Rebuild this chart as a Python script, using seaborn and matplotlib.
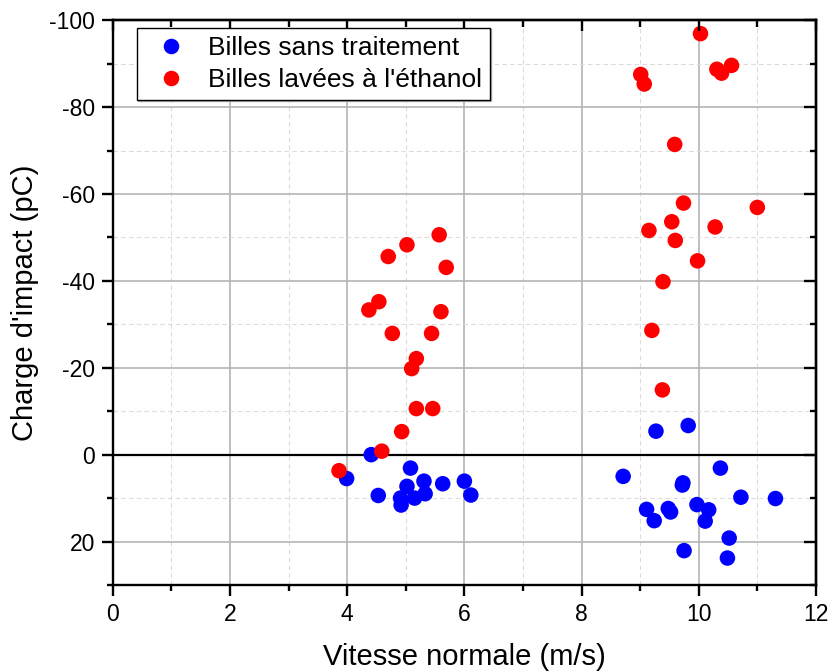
import numpy as np
import pandas as pd
import matplotlib
matplotlib.use("Agg")
import matplotlib.pyplot as plt
from matplotlib.ticker import MultipleLocator
import seaborn as sns

# Untreated beads: normal velocity (m/s) and impact charge (pC)
vitesse_sans = [4.41, 3.99, 4.53, 5.08, 5.02, 5.31, 5.63, 6.00, 6.11, 4.91, 4.92, 5.15, 5.33,
                9.27, 9.82, 8.71, 10.37, 9.73, 9.72, 10.72, 11.31, 9.11, 9.24, 9.48, 9.52,
                9.97, 10.17, 10.11, 10.52, 9.75, 10.49]
charge_sans = [0.0, 5.5, 9.4, 3.1, 7.3, 6.1, 6.7, 6.1, 9.3, 10.0, 11.6, 10.0, 9.0,
               -5.4, -6.7, 5.0, 3.1, 6.5, 7.0, 9.8, 10.1, 12.6, 15.2, 12.4, 13.2,
               11.5, 12.7, 15.3, 19.2, 22.1, 23.8]

# Ethanol-washed beads
vitesse_ethanol = [3.86, 4.59, 4.93, 5.18, 5.46, 5.10, 5.18, 4.77, 5.44, 4.37, 4.54, 5.60,
                   4.70, 5.02, 5.57, 5.69,
                   10.03, 9.01, 9.07, 10.31, 10.39, 10.56, 9.59, 9.74, 11.00, 9.54, 9.15,
                   10.28, 9.60, 9.98, 9.39, 9.20, 9.38]
charge_ethanol = [3.7, -0.8, -5.3, -10.6, -10.6, -19.8, -22.1, -27.9, -27.9, -33.3, -35.2, -32.9,
                  -45.6, -48.3, -50.6, -43.1,
                  -96.9, -87.5, -85.3, -88.7, -87.8, -89.6, -71.4, -57.9, -56.9, -53.6, -51.6,
                  -52.4, -49.3, -44.6, -39.8, -28.6, -14.9]

series = ["Billes sans traitement", "Billes lavées à l'éthanol"]
couleurs = ["#0000ff", "#ff0000"]

df = pd.DataFrame({
    "vitesse": vitesse_sans + vitesse_ethanol,
    "charge": charge_sans + charge_ethanol,
    "serie": [series[0]] * len(vitesse_sans) + [series[1]] * len(vitesse_ethanol),
})

sns.set_theme(style="white")
plt.rcParams["font.family"] = ["Liberation Sans", "DejaVu Sans"]
plt.rcParams["axes.unicode_minus"] = False
plt.rcParams["text.color"] = "black"
plt.rcParams["axes.labelcolor"] = "black"
plt.rcParams["xtick.color"] = "black"
plt.rcParams["ytick.color"] = "black"

fig = plt.figure(figsize=(8.3, 6.72), dpi=100)
ax = fig.add_axes([0.136, 0.1295, 0.847, 0.8405])

ax.set_xlim(0, 12)
ax.set_ylim(30, -100)

ax.xaxis.set_major_locator(MultipleLocator(2))
ax.xaxis.set_minor_locator(MultipleLocator(1))
ax.yaxis.set_major_locator(MultipleLocator(20))
ax.yaxis.set_minor_locator(MultipleLocator(10))

ax.grid(which="major", color="#b4b4b4", linewidth=1.2, linestyle="-")
ax.grid(which="minor", color="#dcdcdc", linewidth=0.8, linestyle=(0, (4, 3)))
ax.set_axisbelow(True)

ax.axhline(0, color="black", linewidth=1.6, zorder=1.5)

sns.scatterplot(data=df, x="vitesse", y="charge", hue="serie", hue_order=series,
                palette=couleurs, s=125, edgecolor="none", linewidth=0, ax=ax, zorder=3)

for side in ["left", "right", "top", "bottom"]:
    ax.spines[side].set_visible(True)
    ax.spines[side].set_color("black")
    ax.spines[side].set_linewidth(1.7)

ax.tick_params(which="major", direction="out", length=8, width=1.7, color="black",
               labelsize=16.5, pad=5, bottom=True, left=True)
ax.tick_params(which="minor", direction="out", length=4, width=1.7, color="black",
               bottom=True, left=True)
# inward ticks on the top and right frame
ax_top = ax.secondary_xaxis("top")
ax_top.set_zorder(4)
ax_top.xaxis.set_major_locator(MultipleLocator(2))
ax_top.xaxis.set_minor_locator(MultipleLocator(1))
ax_top.tick_params(which="major", direction="in", length=8, width=1.7, color="black",
                   labeltop=False)
ax_top.tick_params(which="minor", direction="in", length=5, width=1.7, color="black")
ax_top.spines["top"].set_linewidth(1.7)
ax_top.spines["top"].set_color("black")
ax_right = ax.secondary_yaxis("right")
ax_right.set_zorder(4)
ax_right.yaxis.set_major_locator(MultipleLocator(20))
ax_right.yaxis.set_minor_locator(MultipleLocator(10))
ax_right.tick_params(which="major", direction="in", length=9, width=1.7, color="black",
                     labelright=False)
ax_right.tick_params(which="minor", direction="in", length=4, width=1.7, color="black")
ax_right.spines["right"].set_linewidth(1.7)
ax_right.spines["right"].set_color("black")

ax.set_xlabel("Vitesse normale (m/s)", fontsize=21, labelpad=12)
ax.set_ylabel("Charge d'impact (pC)", fontsize=21, labelpad=7)

handles, labels = ax.get_legend_handles_labels()
leg = ax.legend(handles, labels, loc="upper left", bbox_to_anchor=(0.034, 0.986),
                fontsize=19, frameon=True, fancybox=False, edgecolor="black",
                framealpha=1, shadow={"ox": 1, "oy": -1, "color": "#b0b0b0", "alpha": 1},
                markerscale=1.0, handletextpad=0.4, handlelength=2.0,
                borderpad=0.3, labelspacing=0.3, borderaxespad=0)
leg.get_frame().set_linewidth(1.0)
leg.set_zorder(6)

fig.savefig("out.png", dpi=100, facecolor="white")
